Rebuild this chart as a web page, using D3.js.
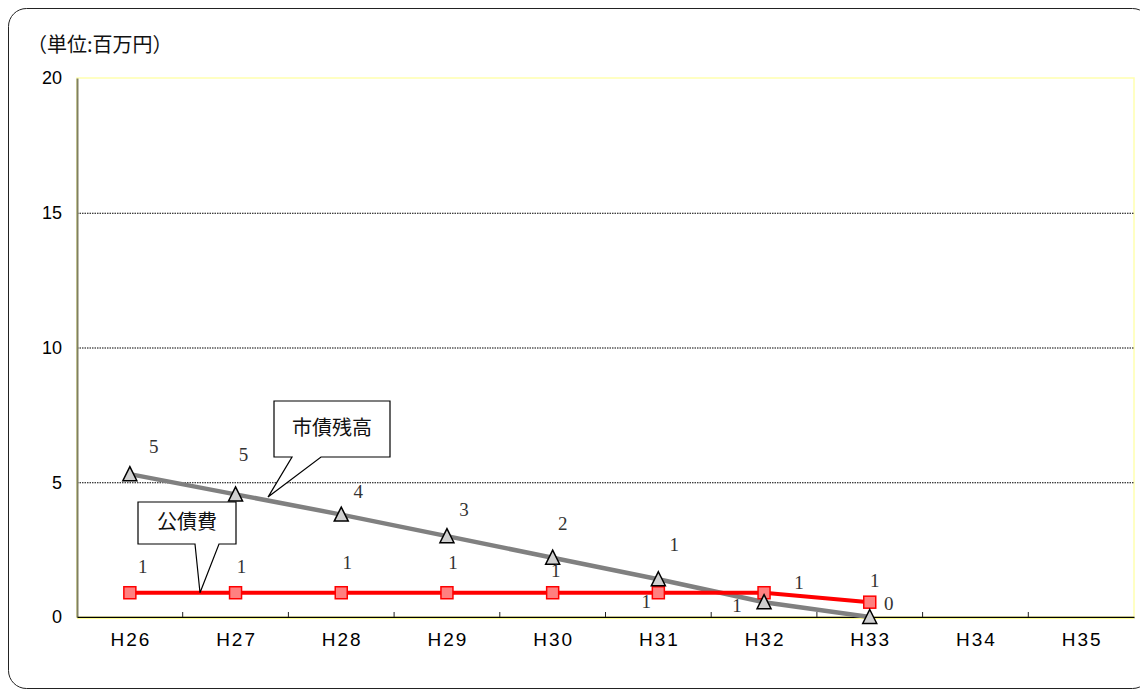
<!DOCTYPE html>
<html>
<head>
<meta charset="utf-8">
<script src="https://cdn.jsdelivr.net/npm/d3@7"></script>
<style>
  html, body { margin: 0; padding: 0; background: #fff; }
  svg { display: block; }
</style>
</head>
<body>
<div id="chart"></div>
<script>
// chart data
var categories = ["H26", "H27", "H28", "H29", "H30", "H31", "H32", "H33", "H34", "H35"];
var debtBalance = [5.3, 4.55, 3.8, 3.0, 2.2, 1.4, 0.55, 0.0];     // 市債残高
var debtBalanceLabels = ["5", "5", "4", "3", "2", "1", "1", "0"];
var debtService = [0.9, 0.9, 0.9, 0.9, 0.9, 0.9, 0.9, 0.55];      // 公債費
var debtServiceLabels = ["1", "1", "1", "1", "1", "1", "1", "1"];
var yTicks = [0, 5, 10, 15, 20];

var W = 1140, H = 691;
var margin = { left: 77, right: 6, top: 78, bottom: 74 };

var svg = d3.select("#chart").append("svg")
	.attr("width", W)
	.attr("height", H);

// outer rounded frame
svg.append("rect")
	.attr("x", 8.5).attr("y", 8.5)
	.attr("width", 1142).attr("height", 680)
	.attr("rx", 18).attr("ry", 18)
	.attr("fill", "#fff")
	.attr("stroke", "#222")
	.attr("stroke-width", 1);

var x = d3.scaleBand()
	.domain(categories)
	.range([margin.left, W - margin.right]);

var y = d3.scaleLinear()
	.domain([0, 20])
	.range([H - margin.bottom, margin.top]);

var x0 = x.range()[0], x1 = x.range()[1];
var y0 = y(0), y1 = y(20);

// plot frame (light yellow)
svg.append("rect")
	.attr("x", x0).attr("y", y1)
	.attr("width", x1 - x0).attr("height", y0 - y1)
	.attr("fill", "none")
	.attr("stroke", "#ffffb0")
	.attr("stroke-width", 1.5);

// grid lines
svg.append("g").selectAll("line")
	.data(yTicks.filter(function(d) { return d > 0 && d < 20; }))
	.enter().append("line")
	.attr("x1", x0).attr("x2", x1)
	.attr("y1", function(d) { return y(d) + 0.5; })
	.attr("y2", function(d) { return y(d) + 0.5; })
	.attr("stroke", "#000")
	.attr("stroke-width", 1)
	.attr("stroke-dasharray", "1.5,1");

// y axis
var yAxis = svg.append("g")
	.attr("transform", "translate(" + x0 + ",0)")
	.call(d3.axisLeft(y).tickValues(yTicks).tickSize(0).tickPadding(15));
yAxis.select(".domain").attr("stroke", "#808060").attr("stroke-width", 2);
yAxis.selectAll("text")
	.attr("font-family", "'Liberation Sans', Arial, sans-serif")
	.attr("font-size", 18)
	.attr("fill", "#000");
yAxis.selectAll("line").remove();

// x axis
var xAxis = svg.append("g")
	.attr("transform", "translate(0," + y0 + ")")
	.call(d3.axisBottom(x).tickSize(0).tickPadding(16));
xAxis.select(".domain").attr("stroke", "#000").attr("stroke-width", 1.5);
xAxis.selectAll("text")
	.attr("font-family", "'Liberation Sans', Arial, sans-serif")
	.attr("font-size", 19)
	.attr("letter-spacing", "2px")
	.attr("dx", "1px")
	.attr("fill", "#000");

// small ticks between categories, pointing up
svg.append("g").selectAll("line")
	.data(categories.slice(1))
	.enter().append("line")
	.attr("x1", function(d) { return x(d); })
	.attr("x2", function(d) { return x(d); })
	.attr("y1", y0).attr("y2", y0 - 5)
	.attr("stroke", "#222").attr("stroke-width", 1);

// yellow underline below the axis
svg.append("line")
	.attr("x1", x0).attr("x2", x1)
	.attr("y1", y0 + 1.5).attr("y2", y0 + 1.5)
	.attr("stroke", "#ffff90").attr("stroke-width", 1);

function cx(i) { return x(categories[i]) + x.bandwidth() / 2; }

var line = d3.line()
	.x(function(d, i) { return cx(i); })
	.y(function(d) { return y(d); });

// 市債残高 line
svg.append("path")
	.datum(debtBalance)
	.attr("d", line)
	.attr("fill", "none")
	.attr("stroke", "#808080")
	.attr("stroke-width", 4.5);

// 公債費 line
svg.append("path")
	.datum(debtService)
	.attr("d", line)
	.attr("fill", "none")
	.attr("stroke", "#ff0000")
	.attr("stroke-width", 4);

// square markers
svg.append("g").selectAll("rect")
	.data(debtService)
	.enter().append("rect")
	.attr("x", function(d, i) { return cx(i) - 6; })
	.attr("y", function(d) { return y(d) - 6; })
	.attr("width", 12).attr("height", 12)
	.attr("fill", "#ff8080")
	.attr("stroke", "#ff0000")
	.attr("stroke-width", 1.5);

// triangle markers
var triPath = "M0,-7.5L7,6.5L-7,6.5Z";
svg.append("g").selectAll("path")
	.data(debtBalance)
	.enter().append("path")
	.attr("d", triPath)
	.attr("transform", function(d, i) { return "translate(" + cx(i) + "," + y(d) + ")"; })
	.attr("fill", "#d0d0d0")
	.attr("stroke", "#000")
	.attr("stroke-width", 1.5);

// data labels (offsets from the point)
var balanceOffsets = [[24, -26], [8, -38], [17, -21], [17, -25], [10, -32], [16, -33], [-27, 5], [19, -11]];
var serviceOffsets = [[13, -24], [6, -24], [6, -28], [6, -28], [3, -20], [-12, 11], [35, -8], [5, -20]];

function drawLabels(values, labels, offsets) {
	svg.append("g").selectAll("text")
		.data(values)
		.enter().append("text")
		.attr("x", function(d, i) { return cx(i) + offsets[i][0]; })
		.attr("y", function(d, i) { return y(d) + offsets[i][1]; })
		.attr("text-anchor", "middle")
		.attr("dominant-baseline", "middle")
		.attr("font-family", "'Liberation Serif', 'DejaVu Serif', serif")
		.attr("font-size", 19)
		.attr("fill", "#333")
		.text(function(d, i) { return labels[i]; });
}
drawLabels(debtBalance, debtBalanceLabels, balanceOffsets);
drawLabels(debtService, debtServiceLabels, serviceOffsets);

// callout boxes
function callout(bx, by, bw, bh, p1, p2, tip, label) {
	var pts = [
		[bx, by], [bx + bw, by], [bx + bw, by + bh],
		[p2, by + bh], tip, [p1, by + bh], [bx, by + bh]
	];
	svg.append("path")
		.attr("d", "M" + pts.map(function(p) { return p.join(","); }).join("L") + "Z")
		.attr("fill", "#fff")
		.attr("stroke", "#000")
		.attr("stroke-width", 1.2);
	svg.append("text")
		.attr("x", bx + bw / 2)
		.attr("y", by + bh / 2 + 1)
		.attr("text-anchor", "middle")
		.attr("dominant-baseline", "middle")
		.attr("font-family", "'Noto Sans CJK JP', sans-serif")
		.attr("font-size", 20)
		.attr("fill", "#111")
		.text(label);
}
callout(274, 401, 116, 56, 292, 321, [268, y(4.45)], "市債残高");
callout(138, 502, 98, 42, 195, 219, [200, y(debtService[0])], "公債費");

// unit label
svg.append("text")
	.attr("x", 27).attr("y", 47)
	.attr("dominant-baseline", "middle")
	.attr("font-family", "'Noto Sans CJK JP', sans-serif")
	.attr("font-size", 20)
	.attr("fill", "#111")
	.text("（単位:百万円）");
</script>
</body>
</html>
